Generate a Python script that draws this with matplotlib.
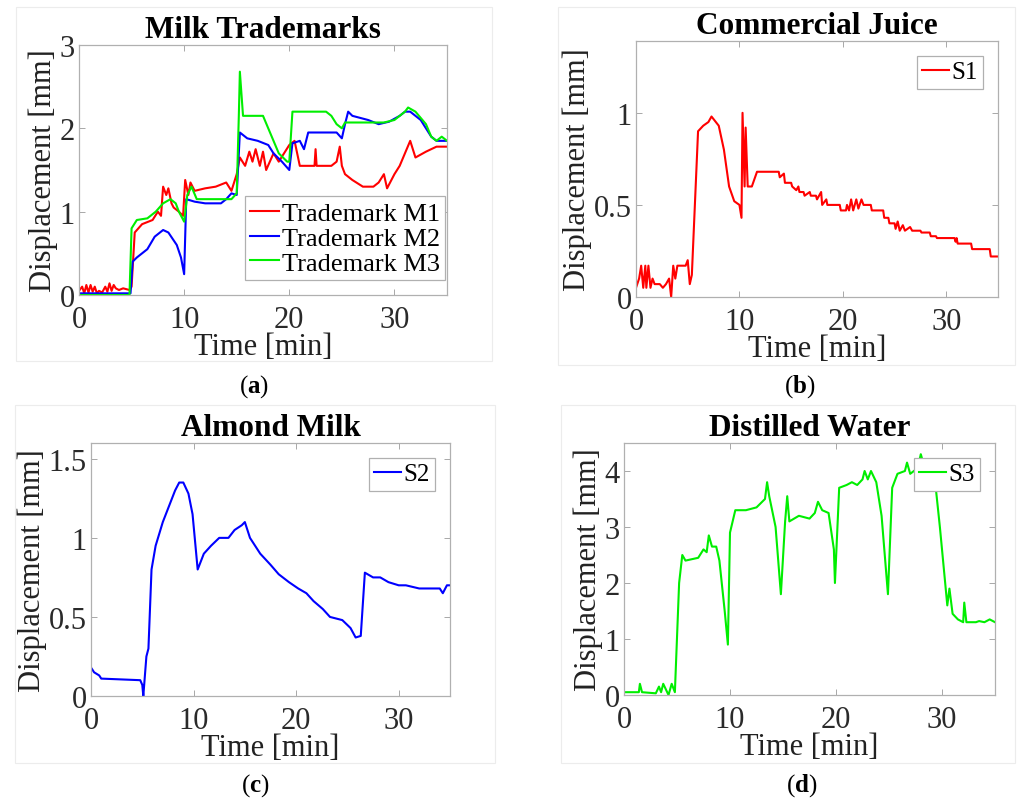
import matplotlib.pyplot as plt
from matplotlib.ticker import FormatStrFormatter
from matplotlib.patches import Rectangle

plt.rcParams['font.family'] = ['Liberation Serif', 'DejaVu Serif']
plt.rcParams['mathtext.fontset'] = 'custom'
plt.rcParams['mathtext.rm'] = 'Liberation Serif'
plt.rcParams['mathtext.bf'] = 'Liberation Serif:bold'

# (a) Milk Trademarks
m1_t = [0, 0.3, 0.5, 0.7, 0.9, 1.1, 1.3, 1.5, 1.7, 1.9, 2.2, 2.5, 2.7, 2.9, 3.1, 3.3, 3.5, 3.8, 4.2, 4.8,
        5.0, 5.3, 6.0, 7.0, 7.5, 7.8, 8.0, 8.3, 8.5, 8.8, 9.0, 9.5, 9.9, 10.1, 10.4, 10.6, 11.0, 12.0, 13.0,
        14.0, 14.5, 15.0, 15.3, 15.8, 16.2, 16.5, 16.8, 17.2, 17.5, 17.8, 18.5, 19.0, 20.0, 20.5, 21.0,
        22.4, 22.5, 22.6, 22.8, 24.0, 24.5, 24.8, 25.0, 25.3, 26.0, 27.0, 28.0, 28.5, 29.0, 29.3, 30.0,
        30.5, 31.0, 31.5, 32.0, 33.0, 34.0, 35.0]
m1_v = [0.05, 0.1, 0.02, 0.12, 0.03, 0.12, 0.04, 0.1, 0.02, 0.05, 0.03, 0.1, 0.04, 0.14, 0.05, 0.12, 0.08, 0.06, 0.08, 0.06,
        0.1, 0.75, 0.85, 0.9, 1.0, 0.95, 1.3, 1.2, 1.28, 1.1, 1.05, 1.0, 0.95, 1.38, 1.2, 1.35, 1.25, 1.28, 1.3,
        1.35, 1.25, 1.45, 1.65, 1.55, 1.72, 1.6, 1.75, 1.55, 1.72, 1.5, 1.7, 1.6, 1.8, 1.85, 1.55,
        1.55, 1.75, 1.55, 1.55, 1.55, 1.6, 1.78, 1.55, 1.45, 1.38, 1.3, 1.3, 1.35, 1.45, 1.28, 1.45,
        1.55, 1.7, 1.85, 1.65, 1.72, 1.78, 1.78]
m2_t = [0, 4.9, 5.1, 5.5, 6.0, 6.5, 7.2, 8.0, 8.5, 9.3, 9.7, 10.0, 10.2, 11.0, 12.0, 13.5, 14.0, 14.5, 15.0,
        15.3, 16.0, 17.0, 18.0, 18.5, 19.3, 20.0, 20.3, 21.0, 21.4, 21.6, 21.8, 24.5, 25.0, 25.3, 25.6,
        26.0, 27.5, 28.5, 29.5, 30.5, 31.0, 31.5, 32.5, 33.5, 34.0, 35.0]
m2_v = [0.02, 0.02, 0.4, 0.45, 0.5, 0.55, 0.7, 0.78, 0.75, 0.6, 0.45, 0.25, 1.15, 1.12, 1.1, 1.1, 1.15, 1.22, 1.2,
        1.95, 1.88, 1.85, 1.8, 1.7, 1.6, 1.5, 1.82, 1.85, 1.75, 1.85, 1.95, 1.95, 1.88, 2.05, 2.2,
        2.15, 2.1, 2.05, 2.08, 2.15, 2.2, 2.2, 2.1, 1.9, 1.85, 1.85]
m3_t = [0, 4.8, 5.0, 5.5, 6.5, 7.3, 8.0, 8.7, 9.2, 9.5, 10.0, 10.3, 10.7, 11.2, 12.0, 14.0, 14.5, 15.0,
        15.2, 15.3, 15.6, 17.5, 18.0, 18.5, 19.0, 19.8, 20.0, 20.3, 23.5, 24.0, 24.5, 25.0, 25.3, 29.0,
        30.0, 31.0, 31.3, 32.0, 33.0, 33.5, 34.0, 34.5, 35.0]
m3_v = [0.0, 0.0, 0.8, 0.9, 0.92, 1.0, 1.1, 1.15, 1.1, 1.0, 0.88, 1.2, 1.3, 1.15, 1.15, 1.15, 1.15, 1.22,
        2.15, 2.68, 2.15, 2.15, 2.0, 1.85, 1.7, 1.6, 1.6, 2.2, 2.2, 2.15, 2.05, 2.0, 2.07, 2.07,
        2.1, 2.2, 2.25, 2.2, 2.05, 1.9, 1.85, 1.9, 1.85]

# (b) Commercial Juice
s1_t = [0, 0.3, 0.5, 0.7, 0.9, 1.0, 1.2, 1.4, 1.6, 1.8, 2.0, 2.3, 2.6, 2.9, 3.2, 3.4, 3.6, 3.8, 4.0, 4.8,
        5.0, 5.2, 5.4, 6.0, 6.5, 7.0, 7.3, 8.0, 8.5, 9.0, 9.5, 10.0, 10.2, 10.3, 10.5, 10.6, 10.8, 11.2,
        11.7, 13.8, 13.9, 14.3, 14.4, 15.0, 15.1, 15.5, 15.7, 15.8, 16.2, 16.3, 16.8, 16.9, 17.4, 17.5,
        17.9, 18.0, 18.4, 18.5, 19.7, 19.8, 20.3, 20.4, 20.6, 20.8, 21.0, 21.3, 21.5, 21.8, 22.0, 22.7,
        22.8, 23.9, 24.0, 24.4, 24.5, 25.0, 25.1, 25.3, 25.5, 25.8, 26.0, 26.5, 26.7, 27.5, 27.6, 28.4,
        28.5, 29.0, 29.1, 30.8, 30.9, 31.0, 31.1, 32.4, 32.5, 34.2, 34.3, 35.0]
s1_v = [0.05, 0.1, 0.17, 0.05, 0.17, 0.05, 0.17, 0.05, 0.1, 0.07, 0.07, 0.07, 0.05, 0.07, 0.1, 0.0, 0.17, 0.1, 0.17, 0.17,
        0.2, 0.07, 0.12, 0.9, 0.93, 0.95, 0.98, 0.93, 0.8, 0.6, 0.52, 0.5, 0.43, 1.0, 0.6, 0.92, 0.6, 0.6,
        0.68, 0.68, 0.65, 0.67, 0.62, 0.62, 0.6, 0.58, 0.6, 0.57, 0.57, 0.55, 0.57, 0.55, 0.55, 0.53,
        0.57, 0.5, 0.53, 0.5, 0.5, 0.47, 0.47, 0.5, 0.47, 0.53, 0.47, 0.53, 0.48, 0.53, 0.5, 0.5,
        0.47, 0.47, 0.43, 0.43, 0.4, 0.4, 0.37, 0.41, 0.36, 0.39, 0.36, 0.38, 0.36, 0.36, 0.35, 0.35,
        0.33, 0.33, 0.32, 0.32, 0.3, 0.32, 0.29, 0.29, 0.26, 0.26, 0.22, 0.22]

# (c) Almond Milk
s2_t = [0, 0.3, 0.8, 1.0, 4.8, 5.0, 5.1, 5.4, 5.6, 5.9, 6.3, 7.0, 7.6, 8.2, 8.6, 9.0, 9.5, 9.9, 10.4, 11.0,
        11.7, 12.5, 13.4, 14.0, 14.7, 15.0, 15.5, 16.5, 17.5, 18.3, 19.3, 20.2, 21.0, 21.7, 22.6, 23.3,
        24.5, 25.3, 25.8, 26.3, 26.7, 27.5, 28.2, 29.0, 30.0, 30.7, 32.0, 34.0, 34.3, 34.7, 35.0]
s2_v = [0.18, 0.15, 0.13, 0.11, 0.1, 0.07, 0.0, 0.25, 0.3, 0.8, 0.95, 1.1, 1.2, 1.3, 1.35, 1.35, 1.28, 1.15, 0.8, 0.9,
        0.95, 1.0, 1.0, 1.05, 1.08, 1.1, 1.0, 0.9, 0.83, 0.77, 0.72, 0.68, 0.65, 0.6, 0.55, 0.5,
        0.48, 0.43, 0.37, 0.38, 0.78, 0.75, 0.75, 0.72, 0.7, 0.7, 0.68, 0.68, 0.65, 0.7, 0.7]

# (d) Distilled Water
s3_t = [0, 1.4, 1.5, 1.7, 3.0, 3.3, 3.5, 3.7, 4.2, 4.5, 4.8, 5.2, 5.5, 5.8, 7.0, 7.5, 7.8, 8.0, 8.3, 8.7,
        9.0, 9.5, 9.8, 10.0, 10.5, 11.5, 12.5, 13.3, 13.5, 13.7, 14.3, 14.8, 15.2, 15.4, 15.6, 16.5, 17.5,
        18.0, 18.3, 18.7, 19.3, 19.8, 19.9, 20.3, 21.0, 21.5, 22.0, 22.5, 22.7, 23.0, 23.3, 23.8, 24.3,
        24.9, 25.3, 25.8, 26.5, 26.7, 27.0, 27.7, 28.0, 28.3, 28.8, 29.3, 29.8, 30.3, 30.5, 30.7, 31.0,
        31.5, 32.0, 32.1, 32.3, 33.2, 33.5, 34.0, 34.5, 35.0]
s3_v = [0.05, 0.05, 0.2, 0.05, 0.03, 0.15, 0.05, 0.2, 0.0, 0.2, 0.05, 2.0, 2.5, 2.4, 2.45, 2.6, 2.55, 2.85, 2.65, 2.65,
        2.4, 1.5, 0.9, 2.9, 3.3, 3.3, 3.35, 3.5, 3.8, 3.55, 3.0, 1.8, 3.1, 3.55, 3.1, 3.2, 3.15,
        3.25, 3.45, 3.3, 3.25, 2.6, 2.0, 3.7, 3.75, 3.8, 3.75, 3.85, 4.0, 3.85, 4.0, 3.8, 3.2,
        1.8, 3.7, 3.95, 4.0, 4.15, 3.95, 4.05, 4.3, 4.1, 4.15, 3.9, 3.0, 2.0, 1.6, 1.9, 1.45,
        1.35, 1.3, 1.65, 1.3, 1.3, 1.32, 1.3, 1.35, 1.3]

W, H = 1019, 804
fig = plt.figure(figsize=(W / 100, H / 100), dpi=100)

# faint panel frames
for x0, y0, x1, y1 in [(16, 8, 492, 362), (558, 8, 1015, 366), (15, 406, 495, 764), (561, 406, 1015, 764)]:
    fig.patches.append(Rectangle((x0 / W, 1 - y1 / H), (x1 - x0) / W, (y1 - y0) / H,
                                 transform=fig.transFigure, fill=False, edgecolor='#ececec', lw=0.8))

FS = 22


def panel(rect, title, ylim, yticks, series, legkw, legsize):
    ax = fig.add_axes(rect)
    for t, v, c, lab in series:
        ax.plot(t, v, color=c, lw=1.5, label=lab)
    ax.set_xlim(0, 35)
    ax.set_ylim(*ylim)
    ax.set_xticks([0, 10, 20, 30])
    ax.set_yticks(yticks)
    ax.yaxis.set_major_formatter(FormatStrFormatter('%g'))
    ax.tick_params(direction='in', top=True, right=True, length=4, width=0.6,
                   colors='#9a9a9a', labelcolor='#2a2a2a', labelsize=FS)
    ax.tick_params(axis='x', pad=7)
    ax.tick_params(axis='y', pad=3)
    for s in ax.spines.values():
        s.set_color('#b0b0b0')
        s.set_linewidth(0.9)
    ax.set_xlabel('Time [min]', fontsize=FS, color='#222222', labelpad=-1)
    ax.set_ylabel('Displacement [mm]', fontsize=FS, color='#222222', labelpad=1)
    ax.set_title(title, fontsize=22.5, fontweight='bold', pad=6)
    leg = ax.legend(fontsize=legsize, handlelength=1.1, handletextpad=0.1,
                    borderpad=0.2, labelspacing=0.05, fancybox=False,
                    framealpha=1, edgecolor='#b0b0b0', **legkw)
    leg.get_frame().set_linewidth(0.9)
    return ax


panel([79 / W, 1 - 296 / H, 368 / W, 250 / H], 'Milk Trademarks', (0, 3), [0, 1, 2, 3],
      [(m1_t, m1_v, '#ff0000', 'Trademark M1'),
       (m2_t, m2_v, '#0000ff', 'Trademark M2'),
       (m3_t, m3_v, '#00ee00', 'Trademark M3')],
      dict(loc='lower right', bbox_to_anchor=(0.995, 0.06), borderaxespad=0), 19)
panel([636 / W, 1 - 298 / H, 362 / W, 256 / H], 'Commercial Juice', (0, 1.39), [0, 0.5, 1],
      [(s1_t, s1_v, '#ff0000', 'S1')], dict(loc='upper right', borderaxespad=0.6), 18)
panel([91 / W, 1 - 697 / H, 359 / W, 253 / H], 'Almond Milk', (0, 1.6), [0, 0.5, 1, 1.5],
      [(s2_t, s2_v, '#0000ff', 'S2')], dict(loc='upper right', borderaxespad=0.6), 18)
panel([624 / W, 1 - 696 / H, 371 / W, 252 / H], 'Distilled Water', (0, 4.5), [0, 1, 2, 3, 4],
      [(s3_t, s3_v, '#00ee00', 'S3')], dict(loc='upper right', borderaxespad=0.6), 18)

for lab, x, y in [('a', 254, 387), ('b', 800, 387), ('c', 255, 786), ('d', 802, 786)]:
    fig.text(x / W, 1 - y / H, r'($\mathbf{%s}$)' % lab, fontsize=18, ha='center', va='center')

fig.savefig('out.png', dpi=100)
